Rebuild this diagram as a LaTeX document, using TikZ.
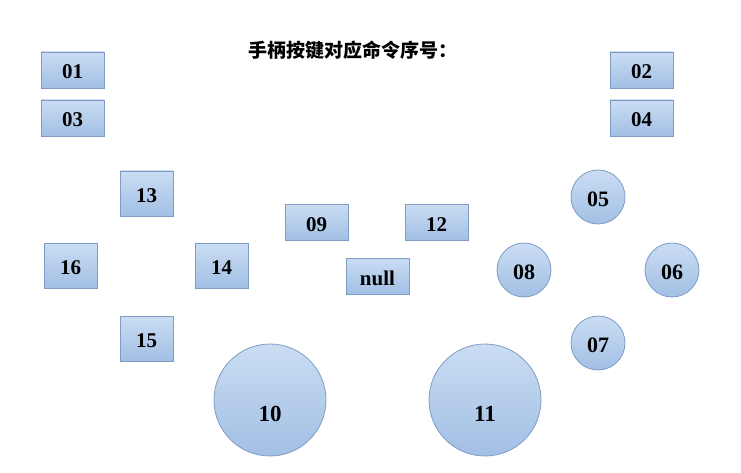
\documentclass[tikz,border=0pt]{standalone}
\usepackage{fontspec}
\setmainfont{Liberation Serif}
\newfontfamily\cjk{Noto Sans CJK SC}
\begin{document}
\begin{tikzpicture}[x=1pt,y=-1pt,
  key/.style={draw=keyborder, line width=0.8pt, top color=keytop, bottom color=keybot, font=\bfseries\fontsize{21}{22}\selectfont, text=black, inner sep=0pt, text height=18pt, text depth=0pt},
  rbox/.style={key, rectangle, minimum width=63pt, minimum height=36pt},
  sbox/.style={key, rectangle, minimum width=53pt, minimum height=45pt},
  scirc/.style={key, circle, minimum size=54pt, font=\bfseries\fontsize{22}{23}\selectfont},
  bcirc/.style={key, circle, minimum size=112pt, font=\bfseries\fontsize{23}{24}\selectfont, text height=0pt}]
\definecolor{keytop}{HTML}{CADDF3}
\definecolor{keybot}{HTML}{A2BFE4}
\definecolor{keyborder}{HTML}{7F9CC4}
\useasboundingbox (0,0) rectangle (741,473);
\node[font=\cjk\bfseries\fontsize{19}{20}\selectfont] (title) at (352.5,50) {手柄按键对应命令序号：};
\node[rbox] (k01) at (72.5,70) {01};
\node[rbox] (k03) at (72.5,118) {03};
\node[rbox] (k02) at (641.5,70) {02};
\node[rbox] (k04) at (641.5,118) {04};
\node[sbox] (k13) at (146.5,193.5) {13};
\node[sbox] (k16) at (70.5,265.5) {16};
\node[sbox] (k14) at (221.5,265.5) {14};
\node[sbox] (k15) at (146.5,338.5) {15};
\node[rbox] (k09) at (316.5,222) {09};
\node[rbox] (k12) at (436.5,222) {12};
\node[rbox] (knull) at (377.5,276) {null};
\node[scirc] (k05) at (598,197) {05};
\node[scirc] (k08) at (524,270) {08};
\node[scirc] (k06) at (672,270) {06};
\node[scirc] (k07) at (598,343) {07};
\node[bcirc] (k10) at (270,400) {\raisebox{-21pt}[0pt][0pt]{10}};
\node[bcirc] (k11) at (485,400) {\raisebox{-21pt}[0pt][0pt]{11}};
\end{tikzpicture}
\end{document}
